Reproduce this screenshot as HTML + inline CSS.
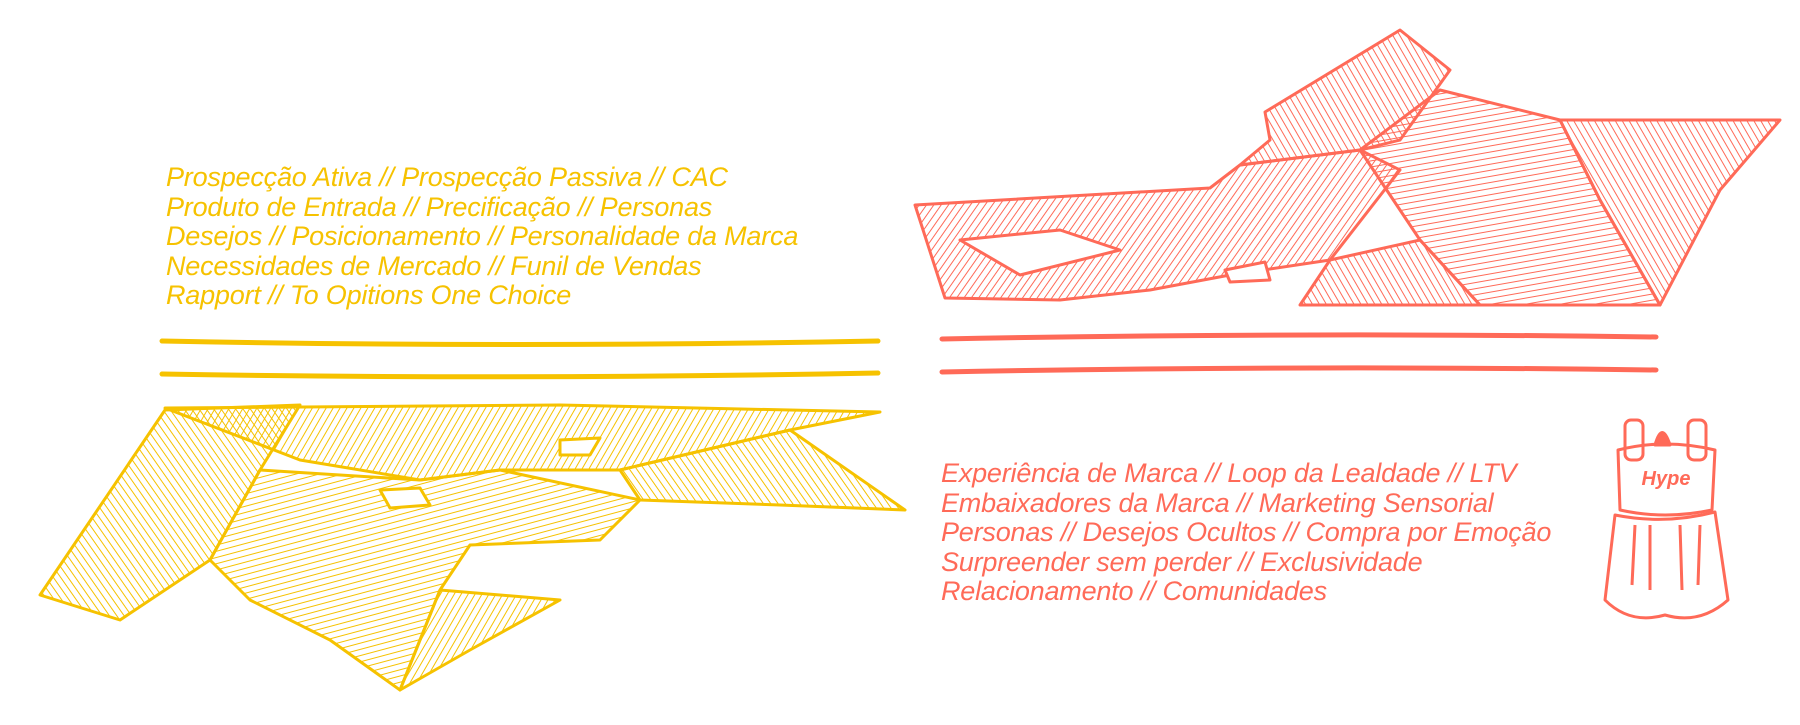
<!DOCTYPE html>
<html><head><meta charset="utf-8"><style>
html,body{margin:0;padding:0;background:#fff;}
#c{position:relative;width:1800px;height:725px;overflow:hidden;background:#fff;}
.t{position:absolute;font-family:"Liberation Sans",sans-serif;font-style:italic;font-size:27px;letter-spacing:-0.2px;line-height:29.5px;white-space:nowrap;}
.y{color:#F6C200;left:166px;top:163px;}
.r{color:#FF6A58;left:941px;top:459px;}
svg{position:absolute;left:0;top:0;}
</style></head><body><div id="c">
<svg width="1800" height="725" viewBox="0 0 1800 725">
<defs>
<pattern id="ry1" width="6" height="6" patternUnits="userSpaceOnUse" patternTransform="rotate(35)"><line x1="0" y1="0" x2="0" y2="6" stroke="#FF6A58" stroke-width="2"/></pattern>
<pattern id="ry2" width="6" height="6" patternUnits="userSpaceOnUse" patternTransform="rotate(-30)"><line x1="0" y1="0" x2="0" y2="6" stroke="#FF6A58" stroke-width="2"/></pattern>
<pattern id="ry3" width="6" height="6" patternUnits="userSpaceOnUse" patternTransform="rotate(80)"><line x1="0" y1="0" x2="0" y2="6" stroke="#FF6A58" stroke-width="2"/></pattern>
<pattern id="yy1" width="6" height="6" patternUnits="userSpaceOnUse" patternTransform="rotate(30)"><line x1="0" y1="0" x2="0" y2="6" stroke="#F6C200" stroke-width="2"/></pattern>
<pattern id="yy2" width="6" height="6" patternUnits="userSpaceOnUse" patternTransform="rotate(-35)"><line x1="0" y1="0" x2="0" y2="6" stroke="#F6C200" stroke-width="2"/></pattern>
<pattern id="yy3" width="6" height="6" patternUnits="userSpaceOnUse" patternTransform="rotate(75)"><line x1="0" y1="0" x2="0" y2="6" stroke="#F6C200" stroke-width="2"/></pattern>
</defs>
<g stroke="#FF6A58" stroke-width="3" stroke-linejoin="round">
<polygon points="915,205 1210,188 1240,165 1360,150 1400,170 1330,260 1230,275 1150,290 1060,300 945,298" fill="url(#ry1)"/>
<polygon points="1265,112 1400,30 1450,70 1400,140 1360,150 1240,165 1270,140" fill="url(#ry2)"/>
<polygon points="1360,150 1440,90 1560,120 1600,200 1660,305 1480,305 1420,240" fill="url(#ry3)"/>
<polygon points="1560,120 1780,120 1720,190 1660,305 1600,200" fill="url(#ry2)"/>
<polygon points="1420,240 1480,305 1300,305 1330,260" fill="url(#ry2)"/>
<polygon points="960,240 1060,230 1120,250 1020,275" fill="#fff"/>
<polygon points="1225,270 1265,262 1270,280 1230,282" fill="#fff"/>
</g>
<g stroke="#F6C200" stroke-width="3" stroke-linejoin="round">
<polygon points="40,595 165,410 300,405 260,470 210,560 120,620" fill="url(#yy2)"/>
<polygon points="165,408 560,405 880,412 790,430 620,470 500,470 420,480 300,460" fill="url(#yy1)"/>
<polygon points="620,470 790,430 905,510 780,505 640,500" fill="url(#yy2)"/>
<polygon points="260,470 420,480 500,470 640,500 600,540 470,545 440,590 400,690 330,640 250,600 210,560" fill="url(#yy3)"/>
<polygon points="440,590 560,600 470,650 400,690" fill="url(#yy1)"/>
<polygon points="560,440 600,438 590,455 560,455" fill="#fff"/>
<polygon points="380,490 420,488 430,505 390,508" fill="#fff"/>
</g>
<g fill="none" stroke-linecap="round">
<path d="M162,341 Q520,348 878,341" stroke="#F6C200" stroke-width="5"/>
<path d="M162,374 Q520,380 878,373" stroke="#F6C200" stroke-width="5"/>
<path d="M942,339 Q1300,332 1656,337" stroke="#FF6A58" stroke-width="5"/>
<path d="M942,372 Q1300,365 1656,370" stroke="#FF6A58" stroke-width="5"/>
</g>
<g stroke="#FF6A58" stroke-width="3" fill="none" stroke-linejoin="round">
<rect x="1625" y="420" width="18" height="40" rx="6"/>
<rect x="1688" y="420" width="18" height="40" rx="6"/>
<path d="M1655,445 Q1662,420 1670,445 Z" fill="#FF6A58"/>
<path d="M1618,450 Q1665,438 1715,450 L1712,510 Q1665,520 1620,510 Z"/>
<path d="M1615,515 Q1665,525 1715,512 L1728,600 Q1700,625 1665,615 Q1630,625 1605,600 Z"/>
<path d="M1635,525 L1632,585 M1650,525 L1650,590 M1680,525 L1682,590 M1700,525 L1698,585"/>
</g>
<text x="1666" y="485" text-anchor="middle" font-family="Liberation Sans, sans-serif" font-style="italic" font-weight="bold" font-size="20" fill="#FF6A58">Hype</text>
</svg>
<div class="t y">Prospecção Ativa // Prospecção Passiva // CAC<br>Produto de Entrada // Precificação // Personas<br>Desejos // Posicionamento // Personalidade da Marca<br>Necessidades de Mercado // Funil de Vendas<br>Rapport // To Opitions One Choice</div>
<div class="t r">Experiência de Marca // Loop da Lealdade // LTV<br>Embaixadores da Marca // Marketing Sensorial<br>Personas // Desejos Ocultos // Compra por Emoção<br>Surpreender sem perder // Exclusividade<br>Relacionamento // Comunidades</div>
</div></body></html>
